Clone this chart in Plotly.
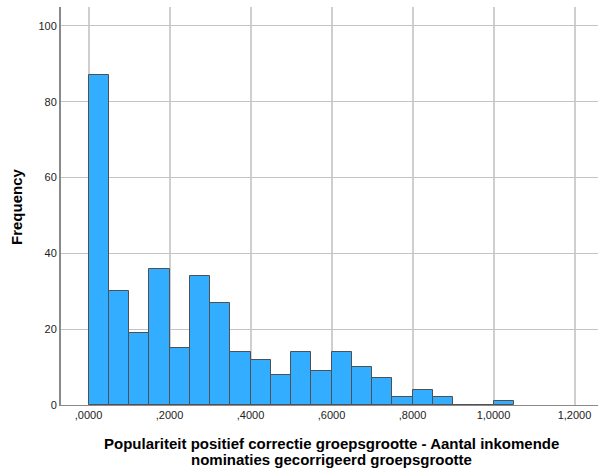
import plotly.graph_objects as go

bin_starts = [0.00, 0.05, 0.10, 0.15, 0.20, 0.25, 0.30, 0.35, 0.40, 0.45, 0.50,
              0.55, 0.60, 0.65, 0.70, 0.75, 0.80, 0.85, 0.90, 0.95, 1.00]
counts = [87, 30, 19, 36, 15, 34, 27, 14, 12, 8, 14, 9, 14, 10, 7, 2, 4, 2, 0, 0, 1]
bin_width = 0.05

x_tickvals = [0.0, 0.2, 0.4, 0.6, 0.8, 1.0, 1.2]
x_ticktext = [",0000", ",2000", ",4000", ",6000", ",8000", "1,0000", "1,2000"]
y_tickvals = [0, 20, 40, 60, 80, 100]
y_ticktext = ["0", "20", "40", "60", "80", "100"]

x_title_lines = ["Populariteit positief correctie groepsgrootte - Aantal inkomende",
                 "nominaties gecorrigeerd groepsgrootte"]
y_title = "Frequency"

W, H = 600, 471
ML, MR, MT, MB = 61, 2, 7, 66
pw = W - ML - MR
ph = H - MT - MB

def px_x(px):
    return (px - ML) / pw

def px_y(py):
    return (H - MB - py) / ph

fig = go.Figure()
fig.add_trace(go.Bar(
    x=[s + bin_width / 2 for s in bin_starts],
    y=counts,
    width=bin_width,
    marker=dict(color="#33ADFF", line=dict(color="#505050", width=1)),
    hoverinfo="x+y",
))

font_family = "Liberation Sans, Arial, sans-serif"
title_font = dict(size=15, color="#000000", family=font_family, weight="bold")

annotations = []
for i, line in enumerate(x_title_lines):
    annotations.append(dict(
        text=line, xref="paper", yref="paper",
        x=px_x(331), y=px_y(443 + 16 * i),
        xanchor="center", yanchor="middle", showarrow=False,
        font=title_font,
    ))
annotations.append(dict(
    text=y_title, xref="paper", yref="paper",
    x=px_x(17), y=px_y(207), textangle=-90,
    xanchor="center", yanchor="middle", showarrow=False,
    font=title_font,
))

fig.update_layout(
    width=W, height=H,
    margin=dict(l=ML, r=MR, t=MT, b=MB, autoexpand=False),
    paper_bgcolor="white", plot_bgcolor="white",
    showlegend=False,
    bargap=0,
    font=dict(family=font_family, size=11, color="#222222"),
    annotations=annotations,
    xaxis=dict(
        range=[-0.068, 1.258],
        tickvals=x_tickvals, ticktext=x_ticktext,
        showgrid=True, gridcolor="#cfcfcf", gridwidth=2,
        showline=True, linecolor="#8a8a8a", linewidth=1,
        zeroline=False, ticks="", automargin=False,
        tickfont=dict(size=11, color="#222222"),
    ),
    yaxis=dict(
        range=[0, 105],
        tickvals=y_tickvals, ticktext=y_ticktext,
        showgrid=True, gridcolor="#c4c4c4", gridwidth=1,
        showline=True, linecolor="#8a8a8a", linewidth=2,
        zeroline=False, ticks="", automargin=False,
        tickfont=dict(size=11, color="#222222"),
    ),
)

fig.write_html("out.html", config={"displayModeBar": False},
               post_script="document.body.style.margin='0px';document.body.style.overflow='hidden';")
